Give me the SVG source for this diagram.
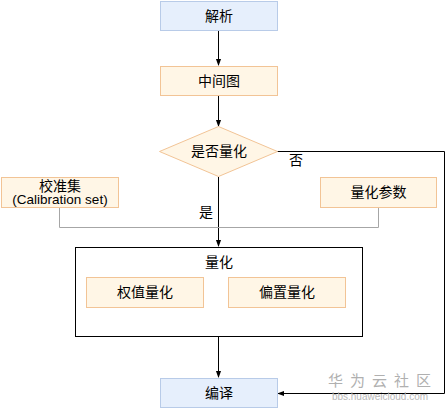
<svg xmlns="http://www.w3.org/2000/svg" width="447" height="410" viewBox="0 0 447 410">
<style>
text{font-family:"Liberation Sans","Noto Sans CJK SC",sans-serif;font-size:14px;fill:#000;text-anchor:middle;dominant-baseline:central}
.blue{fill:#e6effc;stroke:#b8cbe8;stroke-width:1}
.orange{fill:#fff6e6;stroke:#f2c496;stroke-width:1}
.line{fill:none;stroke:#000;stroke-width:1}
.grey{fill:none;stroke:#a6a6a6;stroke-width:1}
</style>
<defs>
<marker id="arr" viewBox="0 0 8 8" refX="7" refY="4" markerWidth="7" markerHeight="7" orient="auto" markerUnits="userSpaceOnUse">
<path d="M0,1 L8,4 L0,7 Z" fill="#000"/>
</marker>
</defs>
<rect width="447" height="410" fill="#fff"/>
<g id="connectors">
<line class="line" x1="218.5" y1="31" x2="218.5" y2="65" marker-end="url(#arr)"/>
<line class="line" x1="218.5" y1="96" x2="218.5" y2="126" marker-end="url(#arr)"/>
<line class="line" x1="218.5" y1="177" x2="218.5" y2="246" marker-end="url(#arr)"/>
<line class="line" x1="218.5" y1="336" x2="218.5" y2="377" marker-end="url(#arr)"/>
<polyline class="line" points="277,151.5 444.5,151.5 444.5,393.5 278,393.5" marker-end="url(#arr)"/>
<polyline class="grey" points="59.5,207 59.5,227.5 378.5,227.5 378.5,207"/>
<text x="296" y="160">否</text>
<text x="206" y="212">是</text>
</g>
<g id="n-parse">
<rect class="blue" x="160.5" y="1.5" width="117" height="29"/>
<text x="219" y="16">解析</text>
</g>
<g id="n-mid">
<rect class="orange" x="160.5" y="66.5" width="117" height="29"/>
<text x="219" y="81">中间图</text>
</g>
<g id="n-decide">
<polygon class="orange" points="218.5,126.5 277.5,151.5 218.5,176.5 159.5,151.5"/>
<text x="219" y="151">是否量化</text>
</g>
<g id="n-calib">
<rect class="orange" x="1.5" y="177.5" width="117" height="30"/>
<text x="60" y="185.5">校准集</text>
<text x="60" y="199.5" style="font-size:13.5px">(Calibration set)</text>
</g>
<g id="n-params">
<rect class="orange" x="320.5" y="177.5" width="116" height="30"/>
<text x="378.5" y="192">量化参数</text>
</g>
<g id="n-quant">
<rect x="75.5" y="247.5" width="287" height="89" fill="#fff" stroke="#000"/>
<text x="219" y="262">量化</text>
</g>
<g id="n-weight">
<rect class="orange" x="86.5" y="277.5" width="117" height="30"/>
<text x="145" y="292">权值量化</text>
</g>
<g id="n-bias">
<rect class="orange" x="228.5" y="277.5" width="117" height="30"/>
<text x="287" y="292">偏置量化</text>
</g>
<g id="n-compile">
<rect class="blue" x="160.5" y="378.5" width="117" height="29"/>
<text x="219" y="393">编译</text>
</g>
<g id="watermark">
<text x="383" y="380" style="font-size:15px;fill:#b0b0b0;letter-spacing:7px">华为云社区</text>
<text x="380" y="396" style="font-size:10px;fill:#b8b8b8">bbs.huaweicloud.com</text>
</g>
</svg>
